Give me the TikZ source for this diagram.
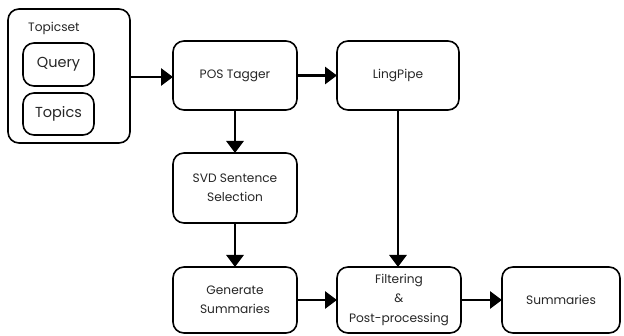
\documentclass[tikz,border=0pt]{standalone}
\usepackage{fontspec}
\setmainfont{Poppins}
\usetikzlibrary{arrows.meta}
\begin{document}
\begin{tikzpicture}[x=1pt,y=-1pt,
  box/.style={draw=black, line width=1.6pt, rounded corners=11pt, fill=white},
  lbl/.style={font=\fontsize{12.2}{19.5}\selectfont, text=black!85, align=center, inner sep=0pt},
  biglbl/.style={lbl, font=\fontsize{14.5}{19.5}\selectfont},
  flow/.style={line width=2.8pt, -{Triangle[length=12pt,width=17pt]}}
]
\useasboundingbox (0,0) rectangle (624,336);
% Topic set container with its two inner items
\draw[box] (8,9) rectangle (130,143);
\node[lbl, anchor=west] (tsl) at (28,28) {Topicset};
\draw[box] (23,43) rectangle (94,86);
\node[biglbl] (query) at (58.5,64.5) {Query};
\draw[box] (23,93) rectangle (94,135);
\node[biglbl] (topics) at (58.5,114) {Topics};
\coordinate (tsR) at (130,77);
% Processing stages
\draw[box] (173,41) rectangle (297,110);
\node[lbl] (pos) at (235,75.5) {POS Tagger};
\draw[box] (337,41) rectangle (459,110);
\node[lbl] (ling) at (398,75.5) {LingPipe};
\draw[box] (173,153) rectangle (297,223);
\node[lbl] (svd) at (235,188) {SVD Sentence\\Selection};
\draw[box] (173,267) rectangle (297,333);
\node[lbl] (gen) at (235,300) {Generate\\Summaries};
\draw[box] (337,267) rectangle (461,333);
\node[lbl] (filt) at (399,300) {Filtering\\\&\\Post-processing};
\draw[box] (502,267) rectangle (620,333);
\node[lbl] (summ) at (561,300) {Summaries};
% Connector anchor points on box borders
\coordinate (posL) at (173,77);
\coordinate (posR) at (297,75.5);
\coordinate (lingL) at (337,75.5);
\coordinate (posB) at (235,110);
\coordinate (svdT) at (235,153);
\coordinate (svdB) at (235,223);
\coordinate (genT) at (235,267);
\coordinate (lingB) at (398,110);
\coordinate (filtT) at (398,267);
\coordinate (genR) at (297,300);
\coordinate (filtL) at (337,300);
\coordinate (filtR) at (461,300);
\coordinate (summL) at (502,300);
% Arrows
\draw[flow] (tsR) -- (posL);
\draw[flow] (posR) -- (lingL);
\draw[flow] (posB) -- (svdT);
\draw[flow] (svdB) -- (genT);
\draw[flow] (lingB) -- (filtT);
\draw[flow] (genR) -- (filtL);
\draw[flow] (filtR) -- (summL);
\end{tikzpicture}
\end{document}
